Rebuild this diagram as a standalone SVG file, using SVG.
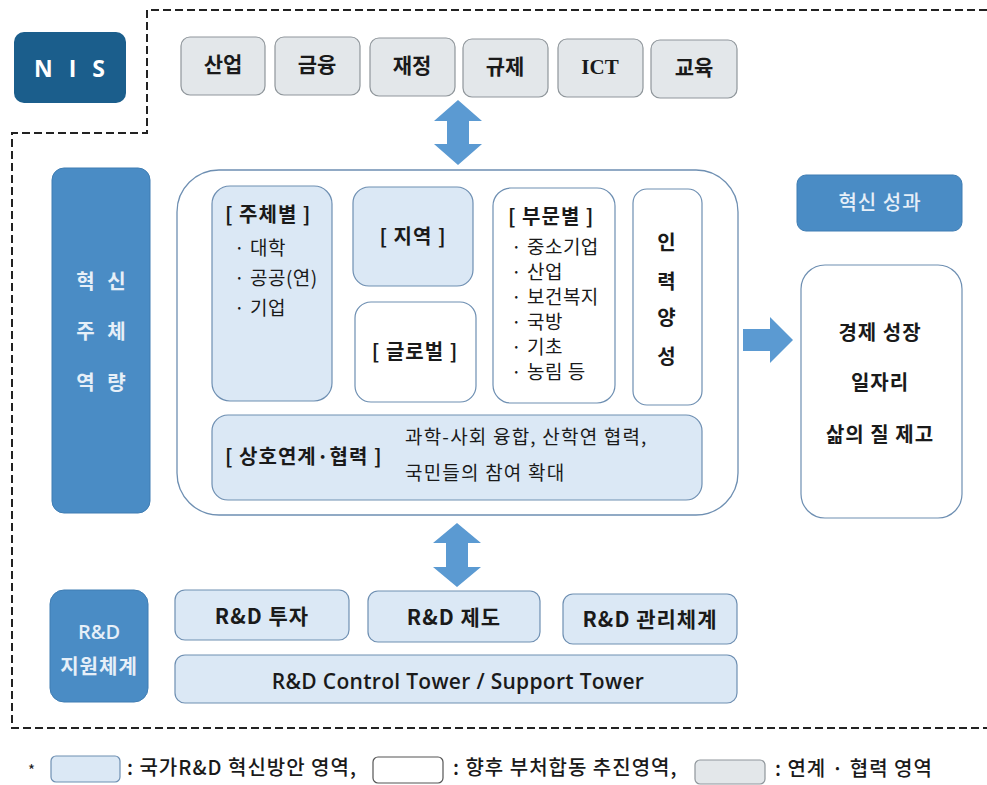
<svg xmlns="http://www.w3.org/2000/svg" width="987" height="785" viewBox="0 0 987 785">
<style>
text{font-family:"Noto Sans CJK KR","Noto Sans",sans-serif;fill:#1a1a1a}
.gray{fill:#e3e7ea;stroke:#8f969b;stroke-width:1.2}
.lb{fill:#dbe8f5;stroke:#6e8fb2;stroke-width:1.2}
.wh{fill:#ffffff;stroke:#6e8fb2;stroke-width:1.2}
.mb{fill:#4a8cc5;stroke:#3f7db3;stroke-width:1}
.arr{fill:#5b9ad2}
.t20{font-size:21px;font-weight:700}
.hd{font-size:20px;font-weight:700;letter-spacing:1px}
.bl{font-size:19px;font-weight:400;letter-spacing:0.5px}
.rd{font-size:21px;font-weight:700;letter-spacing:1px}
.lg{font-size:20px;font-weight:500;letter-spacing:1px}
.wt{fill:#e6eff8;font-weight:700}
.ctr{text-anchor:middle}
</style>
<g id="boundary">
<path d="M987,10 L147,10 L147,133 L12,133 L12,728 L987,728" fill="none" stroke="#222" stroke-width="2" stroke-dasharray="8 4"/>
</g>
<g id="nis">
<rect x="14" y="32" width="112" height="71" rx="10" fill="#1b5e8c"/>
<text x="72" y="77" class="ctr" style="font-family:'Open Sans','Noto Sans',sans-serif;font-size:23px;font-weight:700;fill:#fff;letter-spacing:5px">N I S</text>
</g>
<g id="top-boxes">
<g id="sanup"><rect class="gray" x="181" y="37" width="84" height="58" rx="9"/><text x="223" y="72" class="ctr t20">산업</text></g>
<g id="geumyung"><rect class="gray" x="275" y="37" width="85" height="58" rx="9"/><text x="317" y="72" class="ctr t20">금융</text></g>
<g id="jaejeong"><rect class="gray" x="370" y="38" width="85" height="58" rx="9"/><text x="412" y="73" class="ctr t20">재정</text></g>
<g id="gyuje"><rect class="gray" x="463" y="39" width="85" height="58" rx="9"/><text x="505" y="74" class="ctr t20">규제</text></g>
<g id="ict"><rect class="gray" x="558" y="39" width="85" height="58" rx="9"/><text x="600" y="74" class="ctr t20" style="font-family:'Liberation Serif',serif">ICT</text></g>
<g id="gyoyuk"><rect class="gray" x="651" y="40" width="86" height="58" rx="9"/><text x="694" y="75" class="ctr t20">교육</text></g>
</g>
<g id="connectors">
<path class="arr" d="M458,100 L482,121 L469,121 L469,144 L482,144 L458,165 L434,144 L447,144 L447,121 L434,121 Z"/>
<path class="arr" d="M457,523 L481,543 L468,543 L468,567 L481,567 L457,587 L433,567 L446,567 L446,543 L433,543 Z"/>
<path class="arr" d="M743,329 L770,329 L770,317 L793,340 L770,363 L770,351 L743,351 Z"/>
</g>
<g id="innov-capacity">
<rect class="mb" x="52" y="168" width="98" height="345" rx="12"/>
<text x="103" y="289" class="ctr wt" font-size="20" letter-spacing="4">혁 신</text>
<text x="103" y="339" class="ctr wt" font-size="20" letter-spacing="4">주 체</text>
<text x="103" y="390" class="ctr wt" font-size="20" letter-spacing="4">역 량</text>
</g>
<g id="main-container">
<rect x="177" y="170" width="561" height="345" rx="42" fill="#fff" stroke="#6e8fb2" stroke-width="1.3"/>
</g>
<g id="jucheby">
<rect class="lb" x="212" y="186" width="120" height="215" rx="18"/>
<text x="225" y="222" class="hd">[ 주체별 ]</text>
<text x="234" y="255" class="bl">· 대학</text>
<text x="234" y="285" class="bl">· 공공(연)</text>
<text x="234" y="315" class="bl">· 기업</text>
</g>
<g id="jiyeok">
<rect class="lb" x="353" y="187" width="120" height="99" rx="16"/>
<text x="413" y="244" class="ctr hd">[ 지역 ]</text>
</g>
<g id="global">
<rect class="wh" x="355" y="302" width="121" height="100" rx="16"/>
<text x="415" y="359" class="ctr hd">[ 글로벌 ]</text>
</g>
<g id="bumunbyeol">
<rect class="wh" x="493" y="188" width="122" height="215" rx="18"/>
<text x="508" y="224" class="hd">[ 부문별 ]</text>
<text x="511" y="254" class="bl">· 중소기업</text>
<text x="511" y="279" class="bl">· 산업</text>
<text x="511" y="304" class="bl">· 보건복지</text>
<text x="511" y="329" class="bl">· 국방</text>
<text x="511" y="354" class="bl">· 기초</text>
<text x="511" y="379" class="bl">· 농림 등</text>
</g>
<g id="inryeok">
<rect class="wh" x="633" y="189" width="69" height="216" rx="14"/>
<text x="667" y="250" class="ctr hd">인</text>
<text x="667" y="289" class="ctr hd">력</text>
<text x="667" y="325" class="ctr hd">양</text>
<text x="667" y="364" class="ctr hd">성</text>
</g>
<g id="sangho">
<rect class="lb" x="212" y="415" width="490" height="85" rx="16"/>
<text x="225" y="464" class="hd">[ 상호연계·협력 ]</text>
<text x="405" y="444" class="bl" style="letter-spacing:1.2px">과학-사회 융합, 산학연 협력,</text>
<text x="405" y="480" class="bl" style="letter-spacing:1.2px">국민들의 참여 확대</text>
</g>
<g id="innov-result">
<rect class="mb" x="797" y="175" width="165" height="56" rx="9"/>
<text x="880" y="210" class="ctr" style="fill:#e6eff8;font-size:20px;font-weight:500;letter-spacing:1px">혁신 성과</text>
</g>
<g id="outcomes">
<rect class="wh" x="801" y="265" width="161" height="253" rx="24"/>
<text x="880" y="340" class="ctr hd">경제 성장</text>
<text x="880" y="390" class="ctr hd">일자리</text>
<text x="880" y="442" class="ctr hd">삶의 질 제고</text>
</g>
<g id="rnd-support">
<rect class="mb" x="50" y="590" width="98" height="112" rx="14"/>
<text x="99" y="639" class="ctr wt" style="font-family:'Open Sans','Noto Sans',sans-serif;font-size:20px;font-weight:600">R&amp;D</text>
<text x="99" y="674" class="ctr wt" style="font-size:20px;letter-spacing:1px">지원체계</text>
</g>
<g id="rnd-invest">
<rect class="lb" x="175" y="590" width="174" height="50" rx="10"/>
<text x="262" y="624" class="ctr rd">R&amp;D 투자</text>
</g>
<g id="rnd-system">
<rect class="lb" x="368" y="591" width="172" height="51" rx="10"/>
<text x="454" y="625" class="ctr rd">R&amp;D 제도</text>
</g>
<g id="rnd-manage">
<rect class="lb" x="563" y="594" width="174" height="50" rx="10"/>
<text x="650" y="627" class="ctr rd">R&amp;D 관리체계</text>
</g>
<g id="rnd-tower">
<rect class="lb" x="175" y="655" width="562" height="48" rx="10"/>
<text x="458" y="689" class="ctr" style="font-family:'Open Sans','Noto Sans',sans-serif;font-size:21px;font-weight:600;letter-spacing:0.3px">R&amp;D Control Tower / Support Tower</text>
</g>
<g id="legend">
<text x="28" y="776" font-size="15">*</text>
<rect class="lb" x="51" y="756" width="69" height="26" rx="5"/>
<text x="127" y="775" class="lg">: 국가R&amp;D 혁신방안 영역,</text>
<rect class="wh" x="373" y="757" width="70" height="26" rx="5" style="stroke:#555"/>
<text x="453" y="775" class="lg">: 향후 부처합동 추진영역,</text>
<rect class="gray" x="695" y="760" width="70" height="24" rx="5"/>
<text x="775" y="776" class="lg">: 연계 · 협력 영역</text>
</g>
</svg>
